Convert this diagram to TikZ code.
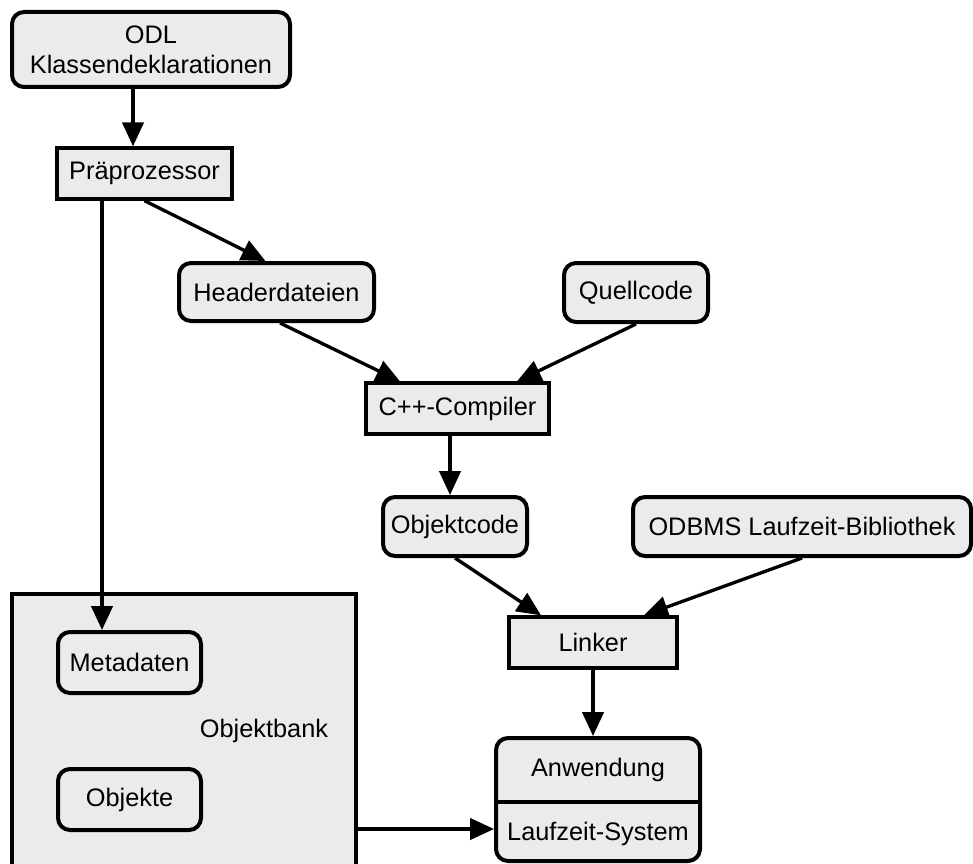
\documentclass[tikz,border=0pt]{standalone}
\usepackage{fontspec}
\setmainfont{Liberation Sans}
\usetikzlibrary{arrows.meta}
\definecolor{boxgray}{RGB}{235,235,235}

\begin{document}
\begin{tikzpicture}[x=0.75pt,y=-0.75pt,line width=2.5pt,
		font=\fontsize{19}{22.5}\selectfont,
		proc/.style={rectangle,draw,fill=boxgray,inner sep=0pt},
		file/.style={proc,rounded corners=9pt,line width=3pt},
		arr/.style={-{Triangle[length=18pt,width=16pt]}}]
			\useasboundingbox (0,0) rectangle (973,863);
			\clip (0,0) rectangle (973,863);
			% Objektbank
			\node[proc, minimum width=258pt, minimum height=229.5pt] (objbank) at (184,747) {};
			\node (objlabel) at (264,731) {Objektbank};
			\node[file, minimum width=107.25pt, minimum height=45.75pt] (metadaten) at (129.5,662.5) {Metadaten};
			\node[file, minimum width=107.25pt, minimum height=45.75pt] (objekte) at (129.5,799.5) {Objekte};
			% Werkzeugkette
			\node[file, minimum width=208.5pt, minimum height=56.25pt, align=center] (odl) at (151,49.5) {ODL\\Klassendeklarationen};
			\node[proc, minimum width=131.25pt, minimum height=38.25pt] (prae) at (144.5,173.5) {Präprozessor};
			\node[file, minimum width=146.25pt, minimum height=43.5pt] (header) at (276.5,292) {Headerdateien};
			\node[file, minimum width=108pt, minimum height=44.25pt] (quell) at (636,292.5) {Quellcode};
			\node[proc, minimum width=137.25pt, minimum height=38.25pt] (cpp) at (457.5,408.5) {C++-Compiler};
			\node[file, minimum width=108pt, minimum height=44.25pt] (objcode) at (455,526.5) {Objektcode};
			\node[file, minimum width=253.5pt, minimum height=44.25pt] (odbms) at (802,526.5) {ODBMS Laufzeit-Bibliothek};
			\node[proc, minimum width=126pt, minimum height=38.25pt] (linker) at (593,642.5) {Linker};
			\node[file, minimum width=153pt, minimum height=92.25pt] (anw) at (598,799.5) {};
			\node (anwtext) at (598,770) {Anwendung};
			\node (lauf) at (598,834) {Laufzeit-System};
			\draw (anw.west |- 0,802) -- (anw.east |- 0,802);
			\path[arr]
			(odl.south -| 133,0) edge (prae.north -| 133,0)
			(prae.south -| 102,0) edge (metadaten.north -| 102,0)
			(prae.south) edge ([shift={(-11,0)}]header.north)
			([shift={(3.5,0)}]header.south) edge ([shift={(-57.5,0)}]cpp.north)
			(quell.south) edge ([shift={(59.5,0)}]cpp.north)
			(cpp.south -| 450,0) edge (objcode.north -| 450,0)
			(objcode.south) edge ([shift={(-52,0)}]linker.north)
			(odbms.south) edge ([shift={(51,0)}]linker.north)
			(linker.south) edge (linker.south |- anw.north)
			(objbank.east |- 0,829) edge (anw.west |- 0,829);
		\end{tikzpicture}
\end{document}
